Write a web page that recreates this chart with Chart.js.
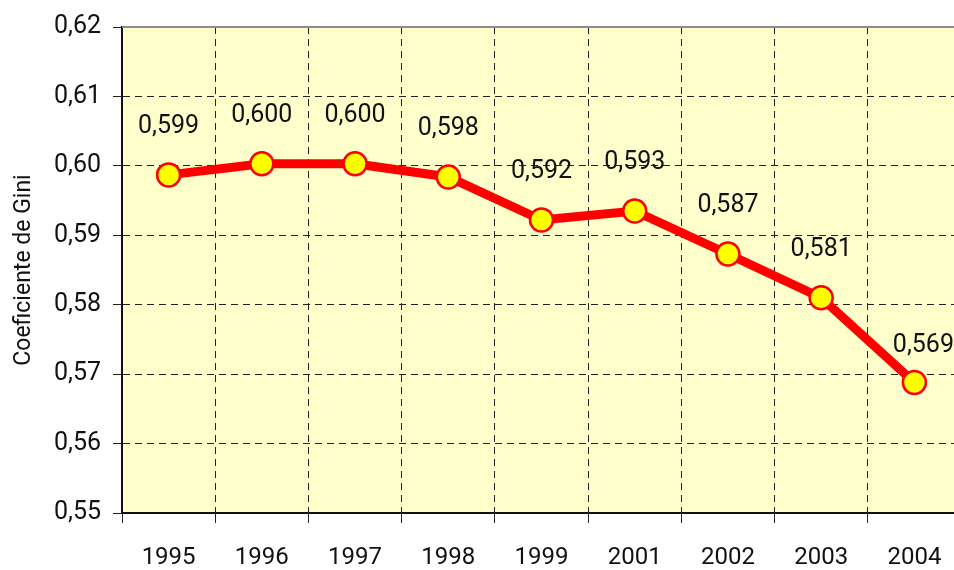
<!DOCTYPE html>
<html>
<head>
<meta charset="utf-8">
<script src="https://cdn.jsdelivr.net/npm/chart.js@4/dist/chart.umd.min.js"></script>
<style>
html,body{margin:0;padding:0;background:#fff;overflow:hidden;}
#wrap{position:relative;width:975px;height:570px;}
</style>
</head>
<body>
<div id="wrap"><canvas id="c" width="975" height="570"></canvas></div>
<script>
const years = ['1995','1996','1997','1998','1999','2001','2002','2003','2004'];
const gini = [0.5987, 0.6003, 0.6003, 0.5984, 0.5922, 0.5935, 0.5873, 0.5810, 0.5688];
const giniLabels = ['0,599','0,600','0,600','0,598','0,592','0,593','0,587','0,581','0,569'];
const yTicks = [0.55, 0.56, 0.57, 0.58, 0.59, 0.60, 0.61, 0.62];

const FONT = 'Roboto, "Open Sans", sans-serif';
const W = 400;

const bgPlugin = {
  id: 'bg',
  beforeDraw(chart) {
    const {ctx, chartArea: a} = chart;
    ctx.save();
    ctx.fillStyle = '#FFFFCC';
    ctx.fillRect(a.left, a.top, a.right - a.left, a.bottom - a.top);
    ctx.restore();
  },
  afterDraw(chart) {
    const {ctx, chartArea: a} = chart;
    ctx.save();
    ctx.strokeStyle = '#8c8c8c';
    ctx.lineWidth = 2;
    ctx.beginPath();
    ctx.moveTo(a.left, a.top);
    ctx.lineTo(a.right, a.top);
    ctx.stroke();
    ctx.restore();
  }
};

const labelPlugin = {
  id: 'vlabels',
  afterDatasetsDraw(chart) {
    const {ctx} = chart;
    const meta = chart.getDatasetMeta(0);
    ctx.save();
    ctx.fillStyle = '#111';
    ctx.font = W + ' 25px ' + FONT;
    ctx.textAlign = 'center';
    ctx.textBaseline = 'middle';
    meta.data.forEach((pt, i) => {
      const last = i === meta.data.length - 1;
      const dx = last ? 9 : 0;
      const dy = last ? -37 : -48;
      ctx.fillText(giniLabels[i], pt.x + dx, pt.y + dy);
    });
    ctx.restore();
  }
};

new Chart(document.getElementById('c'), {
  type: 'line',
  data: {
    labels: years,
    datasets: [{
      data: gini,
      borderColor: '#FF0000',
      borderWidth: 9,
      backgroundColor: '#FFFF00',
      pointBackgroundColor: '#FFFF00',
      pointBorderColor: '#FF0000',
      pointBorderWidth: 2.5,
      pointRadius: 11.5,
      pointHoverRadius: 11.5,
      tension: 0,
      fill: false
    }]
  },
  options: {
    responsive: false,
    animation: false,
    events: [],
    layout: {padding: {top: 27, right: 13, left: 0, bottom: 0}},
    plugins: {legend: {display: false}, tooltip: {enabled: false}},
    scales: {
      x: {
        offset: true,
        grid: {
          offset: true,
          color: '#222',
          lineWidth: 1,
          tickLength: 10,
          tickColor: '#222',
          tickBorderDash: []
        },
        border: {display: true, color: '#111', width: 2, dash: [7, 5]},
        ticks: {
          color: '#111',
          font: {family: FONT, size: 24, weight: W},
          padding: 21,
          maxRotation: 0
        },
        afterFit(s) { s.height = 57; }
      },
      y: {
        min: 0.55,
        max: 0.62,
        afterBuildTicks(s) { s.ticks = yTicks.map(v => ({value: v})); },
        grid: {
          color: '#222',
          lineWidth: 1,
          tickLength: 9,
          tickColor: '#222',
          tickBorderDash: []
        },
        border: {display: true, color: '#111', width: 2, dash: [7, 5]},
        ticks: {
          color: '#111',
          font: {family: FONT, size: 25, weight: W},
          padding: 12,
          callback: v => v.toFixed(2).replace('.', ',')
        },
        title: {
          display: true,
          text: 'Coeficiente de Gini',
          color: '#111',
          font: {family: FONT, size: 23, weight: W},
          padding: {top: 10, bottom: 0}
        },
        afterFit(s) { s.width = 122; }
      }
    }
  },
  plugins: [bgPlugin, labelPlugin]
});
</script>
</body>
</html>
